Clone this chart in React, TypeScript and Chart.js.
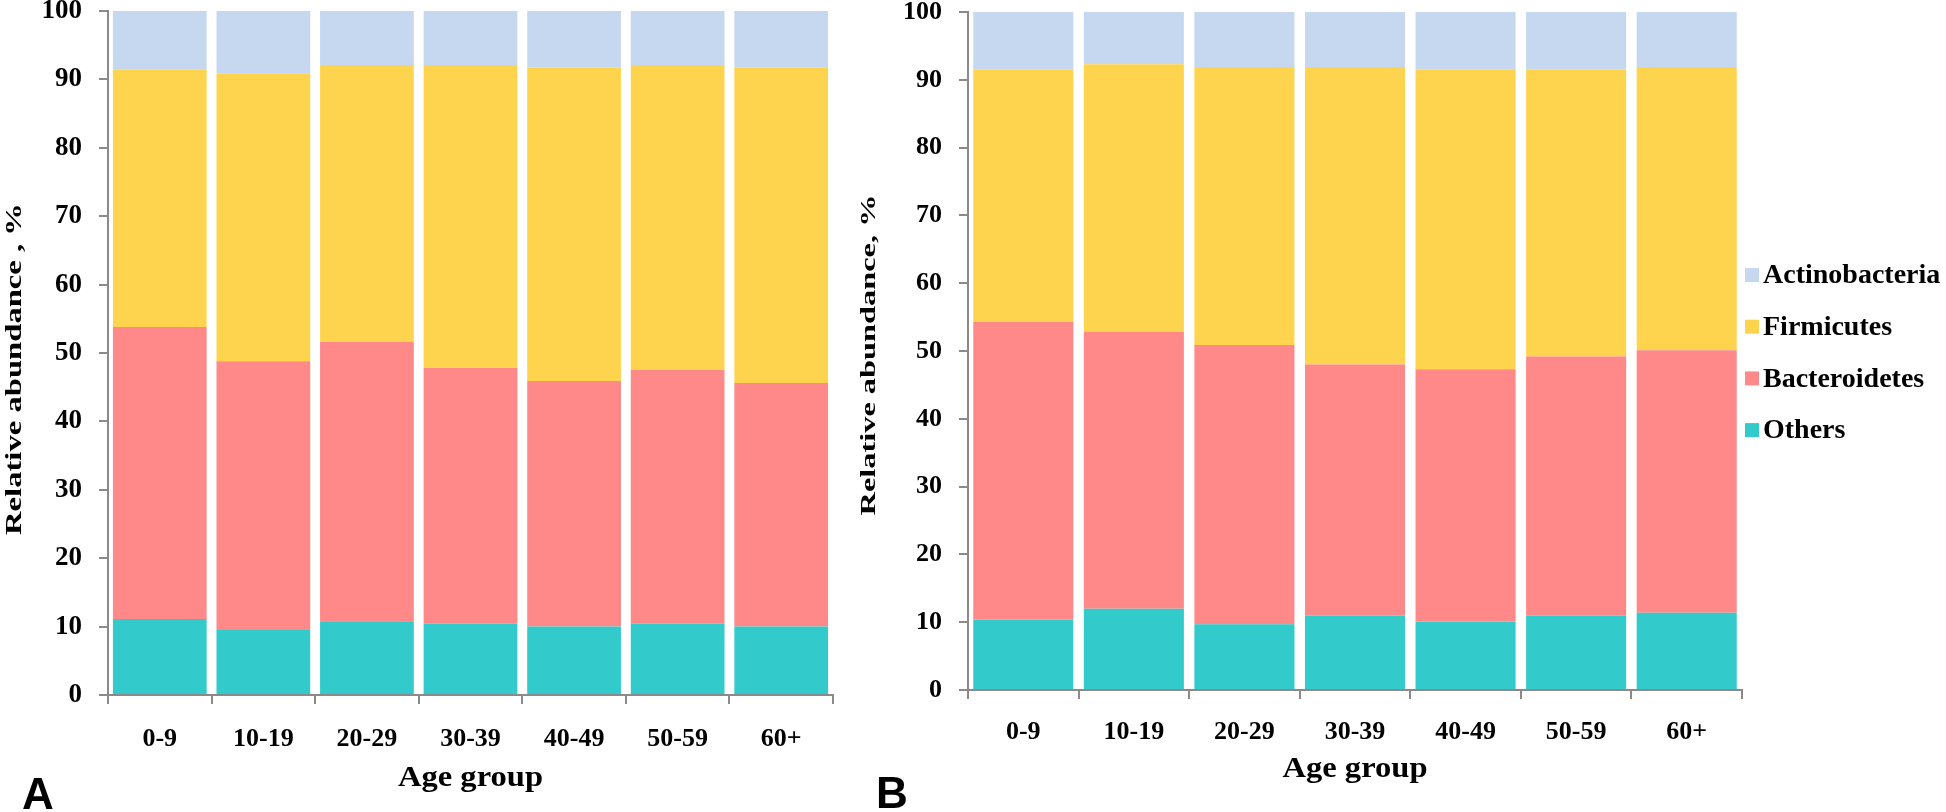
import React, { useEffect, useRef } from 'react';
import { Chart, registerables } from 'chart.js';

Chart.register(...registerables);

// ---------- data ----------
const AGE_GROUPS = ['0-9', '10-19', '20-29', '30-39', '40-49', '50-59', '60+'];
const Y_TICKS = [0, 10, 20, 30, 40, 50, 60, 70, 80, 90, 100];
const SERIES = ['Others', 'Bacteroidetes', 'Firmicutes', 'Actinobacteria'];
const SERIES_COLORS = ['#32CACA', '#FF8888', '#FED44F', '#C6D8EF'];

// Panel A
const A_OTHERS = [11.1, 9.5, 10.8, 10.4, 10.0, 10.4, 10.0];
const A_BACTEROIDETES = [42.7, 39.3, 40.8, 37.4, 35.9, 37.1, 35.6];
const A_FIRMICUTES = [37.7, 42.1, 40.5, 44.3, 45.8, 44.6, 46.1];
const A_ACTINOBACTERIA = [8.5, 9.1, 7.9, 7.9, 8.3, 7.9, 8.3];

// Panel B
const B_OTHERS = [10.4, 12.0, 9.7, 11.0, 10.1, 11.0, 11.4];
const B_BACTEROIDETES = [43.9, 40.8, 41.2, 37.0, 37.2, 38.2, 38.7];
const B_FIRMICUTES = [37.2, 39.5, 41.0, 43.9, 44.2, 42.3, 41.8];
const B_ACTINOBACTERIA = [8.5, 7.7, 8.1, 8.1, 8.5, 8.5, 8.1];

const X_TITLE = 'Age group';
const A_Y_TITLE = 'Relative abundance , %';
const B_Y_TITLE = 'Relative abundance, %';

// ---------- styling ----------
const SERIF = '"Liberation Serif", "Times New Roman", Times, serif';
const SANS = '"Liberation Sans", Arial, Helvetica, sans-serif';
const AXIS = '#8a8a8a';

const panelTextPlugin = {
  id: 'panelText',
  afterDraw(chart: any, _args: any, opts: any) {
    const ctx = chart.ctx as CanvasRenderingContext2D;
    const ca = chart.chartArea;
    ctx.save();
    ctx.fillStyle = '#000';

    const yt = opts.yTitle;
    if (yt) {
      ctx.save();
      ctx.font = `bold ${yt.size}px ${SERIF}`;
      const w = ctx.measureText(yt.text).width;
      ctx.translate(yt.x, yt.y);
      ctx.rotate(-Math.PI / 2);
      ctx.scale(yt.length / w, 1);
      ctx.textAlign = 'center';
      ctx.textBaseline = 'middle';
      ctx.fillText(yt.text, 0, 0);
      ctx.restore();
    }

    const xt = opts.xTitle;
    if (xt) {
      ctx.save();
      ctx.font = `bold ${xt.size}px ${SERIF}`;
      const w = ctx.measureText(xt.text).width;
      ctx.translate((ca.left + ca.right) / 2, xt.baseline);
      ctx.scale(xt.length / w, 1);
      ctx.textAlign = 'center';
      ctx.textBaseline = 'alphabetic';
      ctx.fillText(xt.text, 0, 0);
      ctx.restore();
    }

    const lt = opts.letter;
    if (lt) {
      ctx.save();
      ctx.font = `bold ${lt.size}px ${SANS}`;
      ctx.textAlign = 'left';
      ctx.textBaseline = 'alphabetic';
      ctx.fillText(lt.text, lt.x, lt.baseline);
      ctx.restore();
    }

    const lg = opts.legend;
    if (lg) {
      ctx.save();
      ctx.font = `bold ${lg.size}px ${SERIF}`;
      ctx.textAlign = 'left';
      ctx.textBaseline = 'middle';
      const ds = chart.data.datasets.slice().reverse();
      ds.forEach((d: any, i: number) => {
        const cy = lg.y + i * lg.spacing;
        const bx = ca.right + lg.offset;
        ctx.fillStyle = d.backgroundColor;
        ctx.fillRect(bx, cy - lg.box / 2, lg.box, lg.box);
        ctx.fillStyle = '#000';
        ctx.fillText(d.label, bx + lg.box + lg.gap, cy + 1);
      });
      ctx.restore();
    }
    ctx.restore();
  },
};

type PanelProps = {
  left: number;
  width: number;
  series: number[][];
  yWidth: number;
  xHeight: number;
  padTop: number;
  padRight: number;
  yTickSize: number;
  xTickSize: number;
  xTickPad: number;
  text: any;
};

function Panel(p: PanelProps) {
  const ref = useRef<HTMLCanvasElement | null>(null);
  useEffect(() => {
    if (!ref.current) return;
    const chart = new Chart(ref.current, {
      type: 'bar',
      data: {
        labels: AGE_GROUPS,
        datasets: SERIES.map((name, i) => ({
          label: name,
          data: p.series[i],
          backgroundColor: SERIES_COLORS[i],
          borderWidth: 0,
          categoryPercentage: 1,
          barPercentage: 0.905,
        })),
      },
      options: {
        responsive: false,
        maintainAspectRatio: false,
        animation: false,
        layout: { padding: { top: p.padTop, right: p.padRight, left: 0, bottom: 0 } },
        plugins: {
          legend: { display: false },
          tooltip: { enabled: false },
          panelText: p.text,
        } as any,
        scales: {
          x: {
            stacked: true,
            afterFit: (s: any) => {
              s.height = p.xHeight;
              s.paddingLeft = 0;
              s.paddingRight = 0;
            },
            border: { display: true, color: AXIS, width: 2 },
            grid: {
              drawOnChartArea: false,
              drawTicks: true,
              tickLength: 9,
              color: AXIS,
              lineWidth: 2,
              offset: true,
            },
            ticks: {
              color: '#000',
              padding: p.xTickPad,
              maxRotation: 0,
              autoSkip: false,
              font: { family: SERIF, weight: 'bold', size: p.xTickSize, lineHeight: 1.2 },
            },
          },
          y: {
            stacked: true,
            min: 0,
            max: 100,
            afterBuildTicks: (s: any) => {
              s.ticks = Y_TICKS.map((v) => ({ value: v }));
            },
            afterFit: (s: any) => {
              s.width = p.yWidth;
              s.paddingTop = 0;
              s.paddingBottom = 0;
            },
            border: { display: true, color: AXIS, width: 2 },
            grid: {
              drawOnChartArea: false,
              drawTicks: true,
              tickLength: 9,
              color: AXIS,
              lineWidth: 2,
            },
            ticks: {
              color: '#000',
              padding: 17,
              font: { family: SERIF, weight: 'bold', size: p.yTickSize, lineHeight: 1 },
            },
          },
        } as any,
      },
      plugins: [panelTextPlugin as any],
    });
    return () => chart.destroy();
  }, []);
  return (
    <canvas
      ref={ref}
      width={p.width}
      height={812}
      style={{ position: 'absolute', left: p.left, top: 0, width: p.width, height: 812 }}
    />
  );
}

export default function App() {
  return (
    <div
      style={{
        position: 'absolute',
        left: 0,
        top: 0,
        width: 1946,
        height: 812,
        background: '#fff',
        overflow: 'hidden',
      }}
    >
      <Panel
        left={0}
        width={845}
        series={[A_OTHERS, A_BACTEROIDETES, A_FIRMICUTES, A_ACTINOBACTERIA]}
        yWidth={108}
        xHeight={117}
        padTop={11}
        padRight={12}
        yTickSize={27}
        xTickSize={26}
        xTickPad={20}
        text={{
          yTitle: { text: A_Y_TITLE, size: 23, x: 15, y: 369, length: 332 },
          xTitle: { text: X_TITLE, size: 30, baseline: 786, length: 145 },
          letter: { text: 'A', size: 44, x: 22, baseline: 809 },
        }}
      />
      <Panel
        left={845}
        width={1101}
        series={[B_OTHERS, B_BACTEROIDETES, B_FIRMICUTES, B_ACTINOBACTERIA]}
        yWidth={123}
        xHeight={122}
        padTop={12}
        padRight={204}
        yTickSize={26}
        xTickSize={26}
        xTickPad={18}
        text={{
          yTitle: { text: B_Y_TITLE, size: 22, x: 24, y: 355, length: 321 },
          xTitle: { text: X_TITLE, size: 30, baseline: 777, length: 145 },
          letter: { text: 'B', size: 44, x: 31, baseline: 808 },
          legend: { y: 275, spacing: 51.7, offset: 3, box: 14, gap: 4, size: 28 },
        }}
      />
    </div>
  );
}
